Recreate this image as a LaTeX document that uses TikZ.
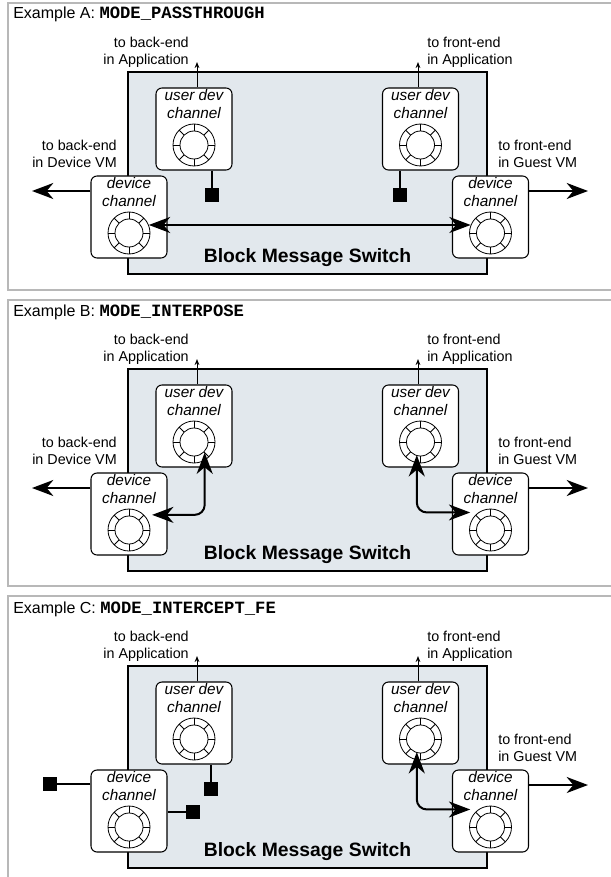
\documentclass[tikz,border=0pt]{standalone}
\usepackage{fontspec}
\setmainfont{Liberation Sans}
\setmonofont{Liberation Mono}
\usetikzlibrary{arrows.meta,positioning}
\definecolor{swfill}{HTML}{E2E8ED}
\definecolor{panelgray}{HTML}{B8B8B8}
\newcommand{\modename}[1]{{\fontsize{12.9}{14}\selectfont\ttfamily\bfseries #1}}
\tikzset{
	flowtip/.tip={Stealth[length=16pt,width=12pt,inset=5pt]},
	panel/.style={draw=panelgray,line width=1.5pt},
	title/.style={anchor=base west,inner sep=0pt,font=\fontsize{12}{14}\selectfont},
	bms/.style={draw,line width=1.5pt,fill=swfill,minimum width=269.25pt,minimum height=151.5pt,inner sep=0pt},
	swtext/.style={inner sep=0pt,font=\fontsize{14.5}{17}\selectfont\bfseries},
	chan/.style={draw,line width=0.8pt,fill=white,rounded corners=4.5pt,minimum width=57pt,minimum height=61.5pt,inner sep=0pt},
	chantext/.style={anchor=north,inner sep=1.5pt,align=center,font=\fontsize{11.5}{13.5}\selectfont\itshape},
	ringbuf/.style={circle,draw,line width=0.6pt,minimum size=31.5pt,inner sep=0pt,
		path picture={
			\draw[line width=0.6pt] (path picture bounding box.center) circle (10.5pt);
			\foreach \a in {0,45,...,315}
				\draw[line width=0.6pt] ([shift={(\a:10.5pt)}]path picture bounding box.center) -- ([shift={(\a:16pt)}]path picture bounding box.center);
		}},
	lbl/.style={inner sep=0pt,font=\fontsize{10.75}{12.75}\selectfont},
	upline/.style={line width=0.75pt,-{Stealth[length=4.5pt,width=3.5pt]}},
	flow/.style={line width=1.5pt,-flowtip},
	flows/.style={line width=1.5pt,flowtip-flowtip},
	stub/.style={fill=black,minimum size=10.5pt,inner sep=0pt},
	stubline/.style={line width=1.1pt}
}
\begin{document}
\begin{tikzpicture}[x=0.75pt,y=-0.75pt]
	\useasboundingbox (0,0) rectangle (610,877);
	% Example A
	\draw[panel] (8,3) rectangle (625,290);
	\node[title] (ttlA) at (13,19) {Example A: \modename{MODE\_PASSTHROUGH}};
	\node[bms] (bmsA) at (307.5,173) {};
	\node[swtext, above=6pt of bmsA.south] (swA) {Block Message Switch};
	\node[chan, label={[chantext]north:{user dev\\channel}}] (ubA) at (194,129) {};
	\node[chan, label={[chantext]north:{user dev\\channel}}] (ufA) at (420.5,129) {};
	\node[chan, label={[chantext]north:{device\\channel}}] (dbA) at (129,217) {};
	\node[chan, label={[chantext]north:{device\\channel}}] (dfA) at (490.5,217) {};
	\node[ringbuf] (rubA) at (194,145) {};
	\node[ringbuf] (rufA) at (420.5,145) {};
	\node[ringbuf] (rdbA) at (129,233) {};
	\node[ringbuf] (rdfA) at (490.5,233) {};
	\node[lbl, align=right, anchor=south east] (lappbA) at (189,68) {to back-end\\in Application};
	\node[lbl, align=left, anchor=south west] (lappfA) at (427,68) {to front-end\\in Application};
	\node[lbl, align=right, anchor=south east] (lvmbA) at (117,168) {to back-end\\in Device VM};
	\node[lbl, align=left, anchor=south west] (lvmfA) at (498,168) {to front-end\\in Guest VM};
	\coordinate (appbA) at (197,62);
	\coordinate (appfA) at (418,62);
	\coordinate (vmbA) at (32,191);
	\coordinate (vmfA) at (588,191);
	\draw[upline] (ubA.north -| appbA) -- (appbA);
	\draw[upline] (ufA.north -| appfA) -- (appfA);
	\draw[flow] (dbA.west |- vmbA) -- (vmbA);
	\draw[flow] (dfA.east |- vmfA) -- (vmfA);
	\node[stub] (sqbA) at (212,195) {};
	\node[stub] (sqfA) at (400,195) {};
	\draw[stubline] (ubA.south -| sqbA) -- (sqbA);
	\draw[stubline] (ufA.south -| sqfA) -- (sqfA);
	\draw[flows] (rdbA.22) -- (rdfA.158);
	% Example B
	\begin{scope}[shift={(0,297)}]
	\draw[panel] (8,3) rectangle (625,289);
	\node[title] (ttlB) at (13,19) {Example B: \modename{MODE\_INTERPOSE}};
	\node[bms] (bmsB) at (307.5,173) {};
	\node[swtext, above=6pt of bmsB.south] (swB) {Block Message Switch};
	\node[chan, label={[chantext]north:{user dev\\channel}}] (ubB) at (194,129) {};
	\node[chan, label={[chantext]north:{user dev\\channel}}] (ufB) at (420.5,129) {};
	\node[chan, label={[chantext]north:{device\\channel}}] (dbB) at (129,217) {};
	\node[chan, label={[chantext]north:{device\\channel}}] (dfB) at (490.5,217) {};
	\node[ringbuf] (rubB) at (194,145) {};
	\node[ringbuf] (rufB) at (420.5,145) {};
	\node[ringbuf] (rdbB) at (129,233) {};
	\node[ringbuf] (rdfB) at (490.5,233) {};
	\node[lbl, align=right, anchor=south east] (lappbB) at (189,68) {to back-end\\in Application};
	\node[lbl, align=left, anchor=south west] (lappfB) at (427,68) {to front-end\\in Application};
	\node[lbl, align=right, anchor=south east] (lvmbB) at (117,168) {to back-end\\in Device VM};
	\node[lbl, align=left, anchor=south west] (lvmfB) at (498,168) {to front-end\\in Guest VM};
	\coordinate (appbB) at (197,62);
	\coordinate (appfB) at (418,62);
	\coordinate (vmbB) at (32,191);
	\coordinate (vmfB) at (588,191);
	\draw[upline] (ubB.north -| appbB) -- (appbB);
	\draw[upline] (ufB.north -| appfB) -- (appfB);
	\draw[flow] (dbB.west |- vmbB) -- (vmbB);
	\draw[flow] (dfB.east |- vmfB) -- (vmfB);
	\draw[flows,rounded corners=7.5pt,shorten <=-6pt,shorten >=6pt] (rubB.-60) |- (rdbB.45);
	\draw[flows,rounded corners=7.5pt,shorten <=-6pt,shorten >=6pt] (rufB.-100) |- (rdfB.125);
	\end{scope}
	% Example C
	\begin{scope}[shift={(0,594)}]
	\draw[panel] (8,2) rectangle (625,320);
	\node[title] (ttlC) at (13,19) {Example C: \modename{MODE\_INTERCEPT\_FE}};
	\node[bms] (bmsC) at (307.5,173) {};
	\node[swtext, above=6pt of bmsC.south] (swC) {Block Message Switch};
	\node[chan, label={[chantext]north:{user dev\\channel}}] (ubC) at (194,129) {};
	\node[chan, label={[chantext]north:{user dev\\channel}}] (ufC) at (420.5,129) {};
	\node[chan, label={[chantext]north:{device\\channel}}] (dbC) at (129,217) {};
	\node[chan, label={[chantext]north:{device\\channel}}] (dfC) at (490.5,217) {};
	\node[ringbuf] (rubC) at (194,145) {};
	\node[ringbuf] (rufC) at (420.5,145) {};
	\node[ringbuf] (rdbC) at (129,233) {};
	\node[ringbuf] (rdfC) at (490.5,233) {};
	\node[lbl, align=right, anchor=south east] (lappbC) at (189,68) {to back-end\\in Application};
	\node[lbl, align=left, anchor=south west] (lappfC) at (427,68) {to front-end\\in Application};
	\node[lbl, align=left, anchor=south west] (lvmfC) at (498,168) {to front-end\\in Guest VM};
	\coordinate (appbC) at (197,62);
	\coordinate (appfC) at (418,62);
	\coordinate (vmfC) at (588,191);
	\draw[upline] (ubC.north -| appbC) -- (appbC);
	\draw[upline] (ufC.north -| appfC) -- (appfC);
	\draw[flow] (dfC.east |- vmfC) -- (vmfC);
	\node[stub] (sqbC) at (211,195) {};
	\node[stub] (sqdC) at (50,190) {};
	\node[stub] (sqeC) at (193,218) {};
	\draw[stubline] (ubC.south -| sqbC) -- (sqbC);
	\draw[stubline] (dbC.west |- sqdC) -- (sqdC);
	\draw[stubline] (dbC.east |- sqeC) -- (sqeC);
	\draw[flows,rounded corners=7.5pt,shorten <=-6pt,shorten >=6pt] (rufC.-100) |- (rdfC.125);
	\end{scope}
\end{tikzpicture}
\end{document}
